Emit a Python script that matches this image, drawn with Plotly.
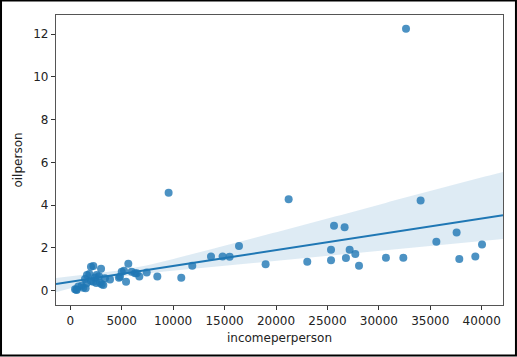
import numpy as np
import plotly.graph_objects as go

income = [32640, 9560, 21230, 34060, 25640, 26670, 37560, 35590, 40030, 16400,
          25350, 27160, 27710, 13680, 14810, 15490, 26800, 30690, 32380, 39380,
          37820, 25350, 23040, 18990, 28070, 11860, 10790, 8460, 7430, 6710,
          6460, 5970, 5640, 5220, 4830, 5420, 4730, 3860, 3370, 3210,
          2990, 2880, 2560, 2240, 2010, 2240, 1850, 1430, 1620, 1490,
          1260, 1100, 780, 460, 580, 2530, 2790, 2400, 2010, 3050,
          5000, 6290, 620, 1590]
oil = [12.25, 4.58, 4.28, 4.22, 3.03, 2.97, 2.72, 2.29, 2.16, 2.09,
       1.91, 1.91, 1.71, 1.60, 1.60, 1.59, 1.53, 1.54, 1.54, 1.60,
       1.48, 1.42, 1.35, 1.23, 1.17, 1.16, 0.61, 0.66, 0.85, 0.66,
       0.81, 0.89, 1.26, 0.93, 0.65, 0.42, 0.60, 0.52, 0.58, 0.27,
       1.03, 0.37, 0.73, 1.15, 1.12, 0.42, 0.78, 0.55, 0.73, 0.11,
       0.14, 0.23, 0.19, 0.07, 0.05, 0.36, 0.67, 0.61, 0.45, 0.30,
       0.89, 0.81, 0.03, 0.35]

x_ticks = [0, 5000, 10000, 15000, 20000, 25000, 30000, 35000, 40000]
y_ticks = [0, 2, 4, 6, 8, 10, 12]
x_range = [-1390, 42070]
y_range = [-0.67, 12.89]

xa = np.array(income, float)
ya = np.array(oil, float)
grid = np.linspace(x_range[0], x_range[1], 100)
b1, b0 = np.polyfit(xa, ya, 1)
yhat = b0 + b1 * grid

# bootstrap CI as in seaborn regplot
rng = np.random.default_rng(0)
boots = []
n = len(xa)
for _ in range(1000):
    idx = rng.integers(0, n, n)
    c1, c0 = np.polyfit(xa[idx], ya[idx], 1)
    boots.append(c0 + c1 * grid)
boots = np.array(boots)
lo = np.percentile(boots, 2.5, axis=0)
hi = np.percentile(boots, 97.5, axis=0)

blue = "#1f77b4"
fig = go.Figure()
fig.add_trace(go.Scatter(x=np.concatenate([grid, grid[::-1]]),
                         y=np.concatenate([hi, lo[::-1]]),
                         fill="toself", fillcolor="rgba(31,119,180,0.15)",
                         line=dict(width=0), hoverinfo="skip", showlegend=False))
fig.add_trace(go.Scatter(x=income, y=oil, mode="markers",
                         marker=dict(color=blue, size=8, opacity=0.8, line=dict(width=0)),
                         showlegend=False))
fig.add_trace(go.Scatter(x=grid, y=yhat, mode="lines",
                         line=dict(color=blue, width=2), showlegend=False))

font = dict(family="DejaVu Sans", size=12, color="#222222")
axis_common = dict(showgrid=False, zeroline=False, showline=True, mirror=True,
                   linecolor="#555555", linewidth=1.2, ticks="outside", ticklen=4,
                   tickcolor="#333333", tickfont=font)
fig.update_xaxes(range=x_range, tickvals=x_ticks, ticktext=[str(v) for v in x_ticks],
                 title=dict(text="incomeperperson", font=font, standoff=7),
                 **axis_common)
fig.update_yaxes(range=y_range, tickvals=y_ticks, ticktext=[str(v) for v in y_ticks],
                 title=dict(text="oilperson", font=font, standoff=8),
                 **axis_common)

# outer image border
fig.add_shape(type="rect", xref="paper", yref="paper",
              x0=-0.1230, x1=1.0290, y0=-0.1740, y1=1.0500,
              line=dict(color="black", width=2), layer="above")

fig.update_layout(width=517, height=357, margin=dict(l=56, r=14, t=15, b=52),
                  plot_bgcolor="white", paper_bgcolor="white")
fig.write_html("out.html", config={"displayModeBar": False},
               post_script="document.body.style.margin='0px';")
